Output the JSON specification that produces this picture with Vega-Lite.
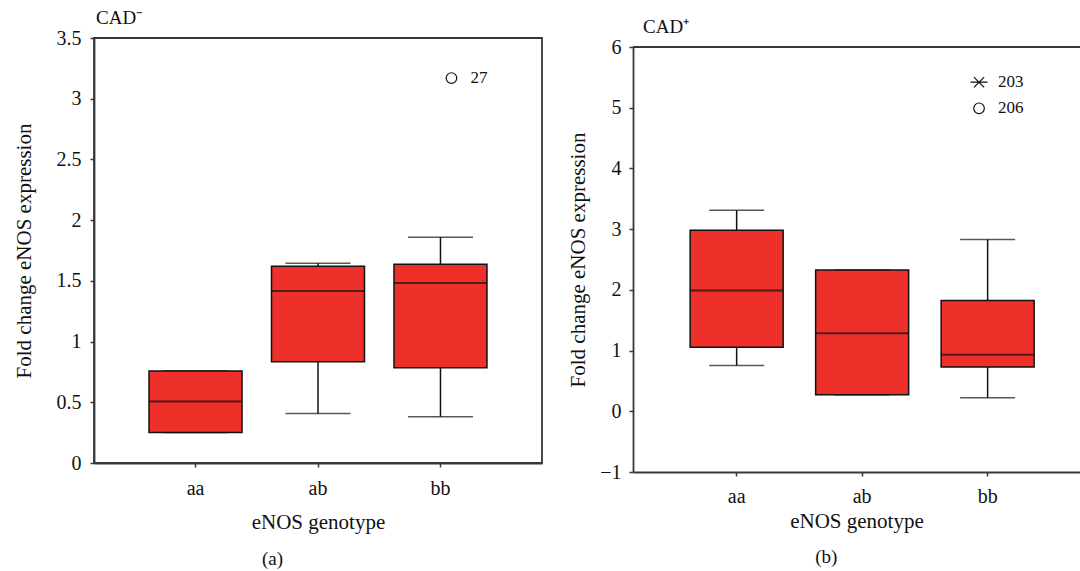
{
  "$schema": "https://vega.github.io/schema/vega-lite/v6.json",
  "padding": {"left": 12, "top": 8, "right": 0, "bottom": 0},
  "background": "white",
  "config": {
    "font": "Liberation Serif",
    "view": {"stroke": null},
    "axis": {
      "grid": false,
      "domainColor": "#383838",
      "domainWidth": 1.8,
      "tickColor": "#383838",
      "tickWidth": 1.5,
      "tickSize": 4,
      "labelFont": "Liberation Serif",
      "titleFont": "Liberation Serif",
      "labelColor": "#111111",
      "titleColor": "#111111",
      "titleFontWeight": "normal",
      "labelFontSize": 20,
      "titleFontSize": 21
    },
    "title": {"font": "Liberation Serif", "fontWeight": "normal", "color": "#111111", "fontSize": 19}
  },
  "datasets": {
    "leftBox": [
      {"genotype": "aa", "min": 0.252, "q1": 0.252, "median": 0.506, "q3": 0.758, "max": 0.758},
      {"genotype": "ab", "min": 0.407, "q1": 0.834, "median": 1.417, "q3": 1.62, "max": 1.644},
      {"genotype": "bb", "min": 0.381, "q1": 0.785, "median": 1.483, "q3": 1.636, "max": 1.86}
    ],
    "leftOut": [
      {"genotype": "bb", "value": 3.17, "id": "27", "shape": "circle"}
    ],
    "rightBox": [
      {"genotype": "aa", "min": 0.755, "q1": 1.056, "median": 1.99, "q3": 2.98, "max": 3.31},
      {"genotype": "ab", "min": 0.274, "q1": 0.274, "median": 1.286, "q3": 2.326, "max": 2.326},
      {"genotype": "bb", "min": 0.224, "q1": 0.728, "median": 0.93, "q3": 1.823, "max": 2.83}
    ],
    "rightOut": [
      {"genotype": "bb", "value": 5.42, "id": "203", "shape": "star"},
      {"genotype": "bb", "value": 4.99, "id": "206", "shape": "circle"}
    ]
  },
  "spacing": 24,
  "hconcat": [
    {
      "title": {"text": "(a)", "orient": "bottom", "anchor": "middle", "frame": "bounds", "offset": 17, "dx": -5, "fontSize": 19},
      "vconcat": [
        {
          "width": 448,
          "height": 425,
          "view": {"stroke": "#383838", "strokeWidth": 1.8},
          "title": {"text": "CAD⁻", "anchor": "start", "frame": "group", "offset": 0, "dx": 2, "fontSize": 19},
          "layer": [
            {
              "data": {"name": "leftBox"},
              "mark": {"type": "rule", "color": "#111111", "strokeWidth": 1.5},
              "encoding": {
                "x": {"field": "genotype", "type": "nominal", "sort": ["aa", "ab", "bb"], "title": "eNOS genotype",
                  "scale": {"type": "band", "domain": ["aa", "ab", "bb"], "paddingInner": 0, "paddingOuter": 0.329, "align": 0.5},
                  "axis": {"title": "eNOS genotype", "labelAngle": 0, "labelFontSize": 20, "labelPadding": 11, "titlePadding": 13}},
                "y": {"field": "min", "type": "quantitative", "title": "Fold change eNOS expression",
                  "scale": {"domain": [0, 3.5], "nice": false, "zero": false},
                  "axis": {"title": "Fold change eNOS expression", "values": [0, 0.5, 1, 1.5, 2, 2.5, 3, 3.5], "format": "~g", "labelPadding": 9, "titlePadding": 22}},
                "y2": {"field": "max"}
              }
            },
            {
              "data": {"name": "leftBox"},
              "mark": {"type": "tick", "color": "#111111", "thickness": 1.5, "size": 65},
              "encoding": {
                "x": {"field": "genotype", "type": "nominal", "title": "eNOS genotype"},
                "y": {"field": "min", "type": "quantitative", "title": "Fold change eNOS expression"}
              }
            },
            {
              "data": {"name": "leftBox"},
              "mark": {"type": "tick", "color": "#111111", "thickness": 1.5, "size": 65},
              "encoding": {
                "x": {"field": "genotype", "type": "nominal", "title": "eNOS genotype"},
                "y": {"field": "max", "type": "quantitative", "title": "Fold change eNOS expression"}
              }
            },
            {
              "data": {"name": "leftBox"},
              "mark": {"type": "bar", "width": 93, "fill": "#ee302b", "stroke": "#111111", "strokeWidth": 1.5},
              "encoding": {
                "x": {"field": "genotype", "type": "nominal", "title": "eNOS genotype"},
                "y": {"field": "q1", "type": "quantitative", "title": "Fold change eNOS expression"},
                "y2": {"field": "q3"}
              }
            },
            {
              "data": {"name": "leftBox"},
              "mark": {"type": "tick", "color": "#111111", "thickness": 2, "size": 93},
              "encoding": {
                "x": {"field": "genotype", "type": "nominal", "title": "eNOS genotype"},
                "y": {"field": "median", "type": "quantitative", "title": "Fold change eNOS expression"}
              }
            },
            {
              "data": {"name": "leftOut"},
              "mark": {"type": "point", "filled": false, "color": "#111111", "strokeWidth": 1.2, "size": 113, "xOffset": 11, "opacity": 1},
              "encoding": {
                "x": {"field": "genotype", "type": "nominal", "title": "eNOS genotype"},
                "y": {"field": "value", "type": "quantitative", "title": "Fold change eNOS expression"}
              }
            },
            {
              "data": {"name": "leftOut"},
              "mark": {"type": "text", "align": "left", "baseline": "middle", "fontSize": 17, "color": "#111111", "xOffset": 11, "dx": 19},
              "encoding": {
                "x": {"field": "genotype", "type": "nominal", "title": "eNOS genotype"},
                "y": {"field": "value", "type": "quantitative", "title": "Fold change eNOS expression"},
                "text": {"field": "id"}
              }
            }
          ]
        }
      ]
    },
    {
      "title": {"text": "(b)", "orient": "bottom", "anchor": "middle", "frame": "bounds", "offset": 17, "dx": 2, "fontSize": 19},
      "vconcat": [
        {
          "width": 447,
          "height": 434,
          "view": {"stroke": null},
          "title": {"text": "CAD⁺", "anchor": "start", "frame": "group", "offset": 0, "dx": 10, "fontSize": 19},
          "layer": [
            {
              "data": {"name": "rightBox"},
              "mark": {"type": "rule", "color": "#111111", "strokeWidth": 1.5},
              "encoding": {
                "x": {"field": "genotype", "type": "nominal", "sort": ["aa", "ab", "bb"], "title": "eNOS genotype",
                  "scale": {"type": "band", "domain": ["aa", "ab", "bb"], "paddingInner": 0, "paddingOuter": 0.281, "align": 0.58},
                  "axis": {"title": "eNOS genotype", "labelAngle": 0, "labelFontSize": 20, "labelPadding": 10, "titlePadding": 4}},
                "y": {"field": "min", "type": "quantitative", "title": "Fold change eNOS expression",
                  "scale": {"domain": [-1, 6], "nice": false, "zero": false, "range": [434, 9]},
                  "axis": {"title": "Fold change eNOS expression", "values": [-1, 0, 1, 2, 3, 4, 5, 6], "format": "~g", "labelPadding": 8, "titlePadding": 11}},
                "y2": {"field": "max"}
              }
            },
            {
              "data": {"name": "rightBox"},
              "mark": {"type": "rule", "color": "#383838", "strokeWidth": 1.8},
              "encoding": {
                "y": {"datum": 6, "type": "quantitative", "title": "Fold change eNOS expression"}
              }
            },
            {
              "data": {"name": "rightBox"},
              "mark": {"type": "tick", "color": "#111111", "thickness": 1.5, "size": 55},
              "encoding": {
                "x": {"field": "genotype", "type": "nominal", "title": "eNOS genotype"},
                "y": {"field": "min", "type": "quantitative", "title": "Fold change eNOS expression"}
              }
            },
            {
              "data": {"name": "rightBox"},
              "mark": {"type": "tick", "color": "#111111", "thickness": 1.5, "size": 55},
              "encoding": {
                "x": {"field": "genotype", "type": "nominal", "title": "eNOS genotype"},
                "y": {"field": "max", "type": "quantitative", "title": "Fold change eNOS expression"}
              }
            },
            {
              "data": {"name": "rightBox"},
              "mark": {"type": "bar", "width": 93, "fill": "#ee302b", "stroke": "#111111", "strokeWidth": 1.5},
              "encoding": {
                "x": {"field": "genotype", "type": "nominal", "title": "eNOS genotype"},
                "y": {"field": "q1", "type": "quantitative", "title": "Fold change eNOS expression"},
                "y2": {"field": "q3"}
              }
            },
            {
              "data": {"name": "rightBox"},
              "mark": {"type": "tick", "color": "#111111", "thickness": 2, "size": 93},
              "encoding": {
                "x": {"field": "genotype", "type": "nominal", "title": "eNOS genotype"},
                "y": {"field": "median", "type": "quantitative", "title": "Fold change eNOS expression"}
              }
            },
            {
              "data": {"name": "rightOut"},
              "mark": {"type": "point", "filled": false, "color": "#111111", "strokeWidth": 1.2, "xOffset": -8.6, "opacity": 1},
              "encoding": {
                "x": {"field": "genotype", "type": "nominal", "title": "eNOS genotype"},
                "y": {"field": "value", "type": "quantitative", "title": "Fold change eNOS expression"},
                "shape": {"field": "shape", "type": "nominal", "legend": null,
                  "scale": {"domain": ["circle", "star"], "range": ["circle", "M-1,0L1,0M-0.6,-0.6L0.6,0.6M-0.6,0.6L0.6,-0.6"]}},
                "size": {"field": "shape", "type": "nominal", "legend": null,
                  "scale": {"domain": ["circle", "star"], "range": [113, 289]}}
              }
            },
            {
              "data": {"name": "rightOut"},
              "mark": {"type": "text", "align": "left", "baseline": "middle", "fontSize": 17, "color": "#111111", "xOffset": -8.6, "dx": 19},
              "encoding": {
                "x": {"field": "genotype", "type": "nominal", "title": "eNOS genotype"},
                "y": {"field": "value", "type": "quantitative", "title": "Fold change eNOS expression"},
                "text": {"field": "id"}
              }
            }
          ]
        }
      ]
    }
  ]
}
